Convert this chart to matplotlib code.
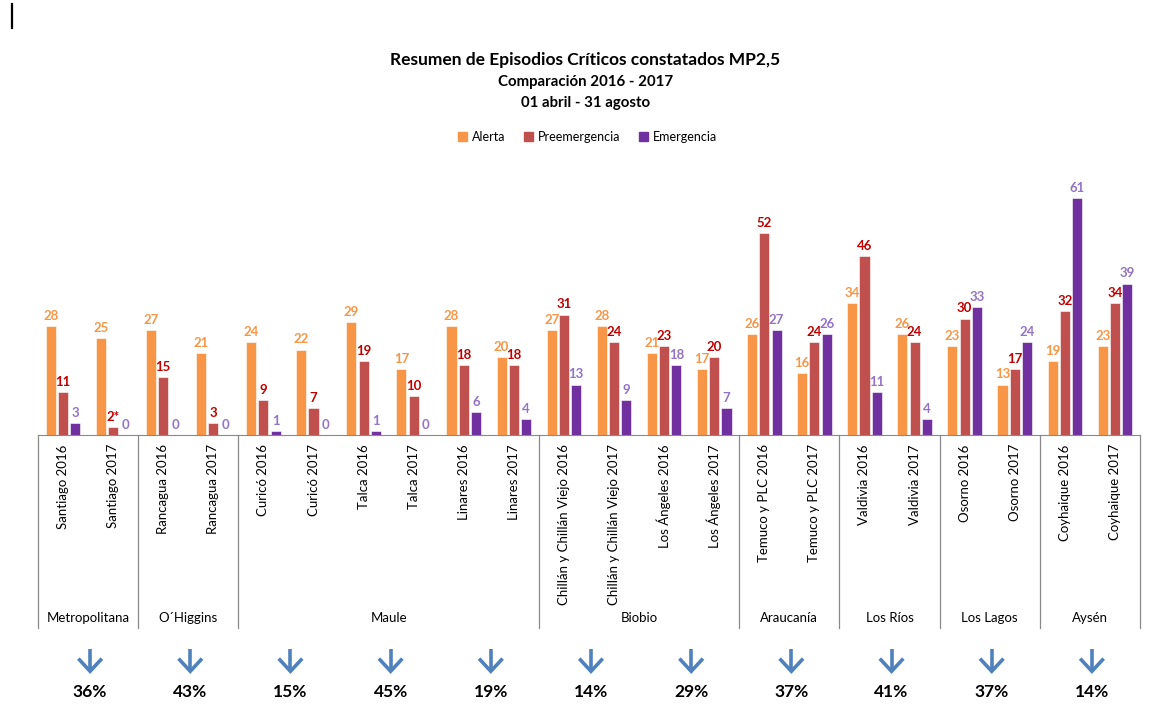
import numpy as np
import matplotlib.pyplot as plt
from matplotlib.lines import Line2D

plt.rcParams['font.family'] = ['Lato', 'DejaVu Sans']

# data
categorias = ['Santiago 2016', 'Santiago 2017', 'Rancagua 2016', 'Rancagua 2017',
              'Curicó 2016', 'Curicó 2017', 'Talca 2016', 'Talca 2017',
              'Linares 2016', 'Linares 2017',
              'Chillán y Chillán Viejo 2016', 'Chillán y Chillán Viejo 2017',
              'Los Ángeles 2016', 'Los Ángeles 2017',
              'Temuco y PLC 2016', 'Temuco y PLC 2017',
              'Valdivia 2016', 'Valdivia 2017', 'Osorno 2016', 'Osorno 2017',
              'Coyhaique 2016', 'Coyhaique 2017']
alerta = [28, 25, 27, 21, 24, 22, 29, 17, 28, 20, 27, 28, 21, 17, 26, 16, 34, 26, 23, 13, 19, 23]
preemergencia = [11, 2, 15, 3, 9, 7, 19, 10, 18, 18, 31, 24, 23, 20, 52, 24, 46, 24, 30, 17, 32, 34]
emergencia = [3, 0, 0, 0, 1, 0, 1, 0, 6, 4, 13, 9, 18, 7, 27, 26, 11, 4, 33, 24, 61, 39]
preemergencia_etiquetas = [str(v) for v in preemergencia]
preemergencia_etiquetas[1] = '2*'

regiones = ['Metropolitana', 'O´Higgins', 'Maule', 'Biobio', 'Araucanía',
            'Los Ríos', 'Los Lagos', 'Aysén']
regiones_n = [2, 2, 6, 4, 2, 2, 2, 2]
reduccion = ['36%', '43%', '15%', '45%', '19%', '14%', '29%', '37%', '41%', '37%', '14%']

c_alerta = '#F79646'
c_pre = '#C0504D'
c_eme = '#7030A0'
lab_alerta = '#F79646'
lab_pre = '#C00000'
lab_eme = '#9473C4'
c_flecha = '#4F81BD'

fig = plt.figure(figsize=(11.75, 7.06), dpi=100)
ax = fig.add_axes([38 / 1175, 1 - 435 / 706, 1102 / 1175, 264 / 706])

x = np.arange(len(categorias))
w = 0.2
off = 0.245
series = [(alerta, c_alerta, lab_alerta, [str(v) for v in alerta], -off),
          (preemergencia, c_pre, lab_pre, preemergencia_etiquetas, 0),
          (emergencia, c_eme, lab_eme, [str(v) for v in emergencia], off)]
for vals, col, lcol, labs, dx in series:
    bars = ax.bar(x + dx, vals, width=w, color=col, edgecolor='white', linewidth=0.4)
    ax.bar_label(bars, labels=labs, padding=3, color=lcol, fontsize=9.5,
                 fontweight='bold')

ax.set_xlim(-0.5, len(categorias) - 0.5)
ax.set_ylim(0, 68)
ax.set_xticks([])
ax.set_yticks([])
for s in ['top', 'right', 'left']:
    ax.spines[s].set_visible(False)
ax.spines['bottom'].set_color('#898989')

trans = ax.get_xaxis_transform()
for i, nombre in enumerate(categorias):
    ax.text(i, -0.035, nombre, rotation=90, ha='center', va='top', fontsize=9.5,
            transform=trans, color='black')

# region separators and names
bordes = np.concatenate([[0], np.cumsum(regiones_n)])
for b in bordes:
    ax.add_line(Line2D([b - 0.5, b - 0.5], [0, -0.73], transform=trans,
                       color='#898989', lw=0.9, clip_on=False))
for k, nombre in enumerate(regiones):
    centro = (bordes[k] + bordes[k + 1] - 1) / 2
    ax.text(centro, -0.693, nombre, ha='center', va='center', fontsize=9.5,
            transform=trans)

# reduction arrows
for k, pct in enumerate(reduccion):
    xc = 2 * k + 0.54
    ax.add_line(Line2D([xc, xc], [-0.812, -0.893], transform=trans, color=c_flecha,
                       lw=2.6, clip_on=False, solid_capstyle='butt'))
    ax.add_line(Line2D([xc - 0.21, xc, xc + 0.21], [-0.852, -0.895, -0.852],
                       transform=trans, color=c_flecha, lw=2.6, clip_on=False,
                       solid_joinstyle='miter'))
    ax.text(xc, -0.975, pct, ha='center', va='center', fontsize=12.5,
            fontweight='bold', transform=trans)

fig.text(0.498, 1 - 60 / 706, 'Resumen de Episodios Críticos constatados MP2,5',
         ha='center', va='center', fontsize=12.5, fontweight='bold')
fig.text(0.498, 1 - 82 / 706, 'Comparación 2016 - 2017',
         ha='center', va='center', fontsize=10.8, fontweight='bold')
fig.text(0.498, 1 - 103 / 706, '01 abril - 31 agosto',
         ha='center', va='center', fontsize=10.8, fontweight='bold')

handles = [plt.Rectangle((0, 0), 1, 1, color=c) for c in (c_alerta, c_pre, c_eme)]
fig.legend(handles, ['Alerta', 'Preemergencia', 'Emergencia'], loc='center',
           bbox_to_anchor=(0.5, 1 - 137 / 706), ncol=3, frameon=False, fontsize=9,
           handlelength=0.7, handleheight=0.7, columnspacing=1.5, handletextpad=0.4)

# stray cursor mark at top-left
fig.add_artist(Line2D([12 / 1175, 12 / 1175], [1 - 4 / 706, 1 - 28 / 706],
                      color='black', lw=1.6))

fig.savefig('out.png', dpi=100)
